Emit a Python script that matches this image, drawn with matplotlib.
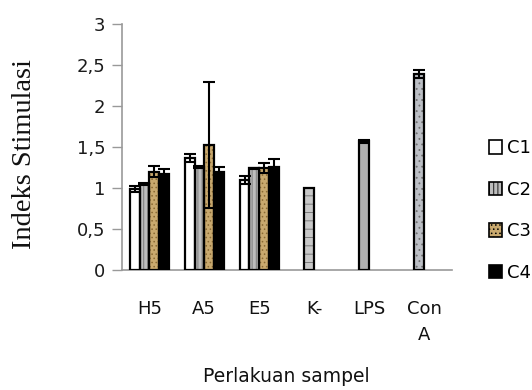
import matplotlib
matplotlib.use("Agg")
import matplotlib.pyplot as plt
from matplotlib.patches import Patch
import numpy as np

# Stimulation index per treatment and concentration series
categories = ["H5", "A5", "E5", "K-", "LPS", "Con\nA"]
series = ["C1", "C2", "C3", "C4"]
c1 = [0.99, 1.37, 1.10, np.nan, np.nan, np.nan]
c2 = [1.05, 1.26, 1.24, 1.00, 1.57, 2.39]
c3 = [1.20, 1.52, 1.24, np.nan, np.nan, np.nan]
c4 = [1.17, 1.19, 1.26, np.nan, np.nan, np.nan]
c1_err = [0.04, 0.05, 0.05, 0, 0, 0]
c2_err = [0.01, 0.01, 0.01, 0, 0.02, 0.05]
c3_err = [0.07, 0.77, 0.06, 0, 0, 0]
c4_err = [0.06, 0.07, 0.09, 0, 0, 0]
yticks = [0, 0.5, 1, 1.5, 2, 2.5, 3]
ytick_labels = ["0", "0,5", "1", "1,5", "2", "2,5", "3"]

values = [c1, c2, c3, c4]
errors = [c1_err, c2_err, c3_err, c4_err]

fig = plt.figure(figsize=(5.32, 3.9), dpi=100)
ax = fig.add_axes([0.229, 0.308, 0.62, 0.63])

x = np.arange(len(categories))
bw = 0.178
offsets = (np.arange(4) - 1.5) * bw

styles = [
    dict(facecolor="white", edgecolor="black", hatch=None),
    dict(facecolor="#bdbdbd", edgecolor="black", hatch="||||"),
    dict(facecolor="#c9a96e", edgecolor="black", hatch="...."),
    dict(facecolor="black", edgecolor="black", hatch=None),
]
# control treatments carry their own fills
control_fill = {3: ("#c8c8c8", "--"), 4: ("#b0b0b0", None), 5: ("#bcbfc5", "...")}

plt.rcParams["hatch.linewidth"] = 0.6
for i, (vals, errs) in enumerate(zip(values, errors)):
    for j in range(len(categories)):
        v = vals[j]
        if np.isnan(v):
            continue
        st = dict(styles[i])
        if j in control_fill:
            st["facecolor"], st["hatch"] = control_fill[j]
        if st["hatch"]:
            hatch_col = "#707070" if i != 2 else "#8a6a34"
        else:
            hatch_col = "black"
        ax.bar(x[j] + offsets[i], v, bw, color=st["facecolor"],
               edgecolor=hatch_col, hatch=st["hatch"], linewidth=0, zorder=2)
        ax.bar(x[j] + offsets[i], v, bw, facecolor="none",
               edgecolor="black", linewidth=1.6, zorder=3)
        if errs[j] > 0:
            ax.errorbar(x[j] + offsets[i], v, yerr=errs[j], fmt="none",
                        ecolor="black", elinewidth=1.5, capsize=4,
                        capthick=1.5, zorder=4)

ax.set_xlim(-0.5, len(categories) - 0.5)
ax.set_ylim(0, 3)
ax.set_yticks(yticks)
ax.set_yticklabels(ytick_labels, fontsize=13, color="#1a1a1a")
ax.set_xticks(x)
ax.set_xticklabels(categories, fontsize=13, color="#111111", va="top",
                   linespacing=1.55)
ax.tick_params(axis="x", length=0, pad=22)
ax.tick_params(axis="y", length=7, width=1, color="#999999", pad=5)

for s in ["top", "right"]:
    ax.spines[s].set_visible(False)
for s in ["left", "bottom"]:
    ax.spines[s].set_color("#999999")
    ax.spines[s].set_linewidth(1.2)

ax.set_ylabel("Indeks Stimulasi", family="Liberation Serif", fontsize=20.5,
              color="#111111")
ax.yaxis.set_label_coords(-0.258, 0.47)
ax.set_xlabel("Perlakuan sampel", fontsize=13.5, color="#111111", va="top")
ax.xaxis.set_label_coords(0.5, -0.395)

handles = [Patch(facecolor=st["facecolor"], edgecolor="black", hatch=st["hatch"],
                 linewidth=1.2) for st in styles]
leg = fig.legend(handles, series, loc="center left", bbox_to_anchor=(0.905, 0.46),
                 frameon=False, fontsize=13, handlelength=0.75, handleheight=0.75,
                 handletextpad=0.25, labelspacing=1.3, borderaxespad=0)

fig.savefig("out.png", dpi=100)
